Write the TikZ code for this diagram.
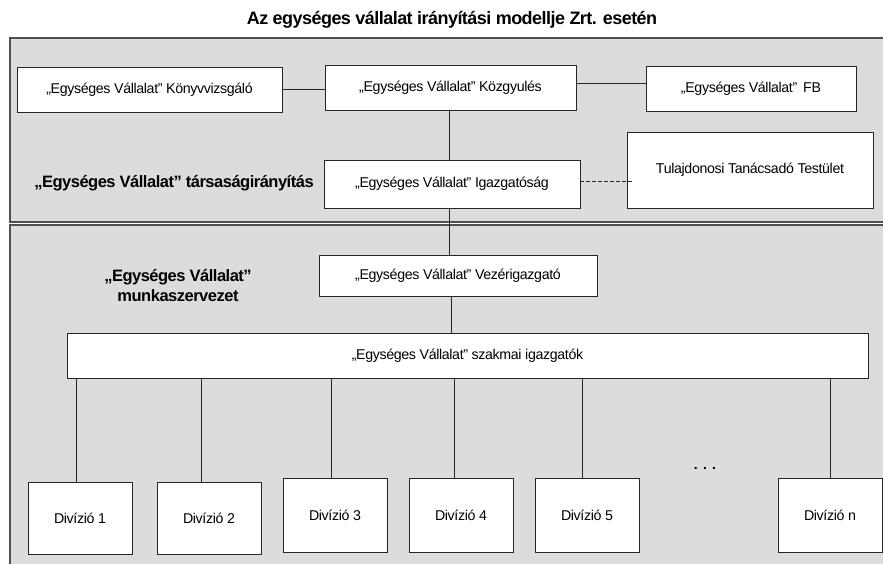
\documentclass[tikz,border=0pt]{standalone}
\usepackage{fontspec}
\setmainfont{Liberation Sans}
\newfontfamily\boxfont[LetterSpace=-2.5]{Liberation Sans}
\newfontfamily\headfont[LetterSpace=-3.0]{Liberation Sans}
\usetikzlibrary{calc}
\definecolor{panelfill}{HTML}{DCDCDC}
\definecolor{panelline}{HTML}{505050}
\tikzset{
  panel/.style={draw=panelline, fill=panelfill, line width=1.2pt},
  orgbox/.style={draw=black!85, fill=white, line width=0.9pt, inner sep=0pt,
    font=\boxfont\fontsize{14.2}{16}\selectfont},
  link/.style={draw=black!85, line width=0.9pt},
  grouplabel/.style={font=\headfont\bfseries\fontsize{16.5}{20}\selectfont, align=center, inner sep=0pt},
}
\begin{document}
\begin{tikzpicture}[x=1pt, y=-1pt]
  \useasboundingbox (0,0) rectangle (883,564);
  \fill[white] (0,0) rectangle (883,564);

  % title
  \node[font=\headfont\bfseries\fontsize{18}{21}\selectfont, inner sep=0pt] (title) at (452,20)
    {Az egységes vállalat irányítási modellje Zrt. esetén};

  % the two shaded bands
  \begin{scope}
    \clip (0,0) rectangle (883,564);
    \draw[panel] (10,38) rectangle (890,222);
    \draw[panel] (10,225) rectangle (890,575);
  \end{scope}

  % governance boxes
  \node[orgbox, minimum width=265pt, minimum height=45pt] (kv)  at (149.5,89.5) {„Egységes Vállalat” Könyvvizsgáló};
  \node[orgbox, minimum width=251pt, minimum height=45pt] (kgy) at (450.5,87.5) {„Egységes Vállalat” Közgyulés};
  \node[orgbox, minimum width=210pt, minimum height=45pt] (fb)  at (751,88.5)   {„Egységes Vállalat”\, FB};
  \node[orgbox, minimum width=256pt, minimum height=48pt] (ig)  at (452,184)    {„Egységes Vállalat” Igazgatóság};
  \node[orgbox, minimum width=246pt, minimum height=76pt] (tt)  at (750,170)    {Tulajdonosi Tanácsadó Testület};
  \coordinate (ttin) at ([xshift=6pt]tt.west);

  \node[grouplabel] (gov) at (174,183) {„Egységes Vállalat” társaságirányítás};

  % working organisation
  \node[orgbox, minimum width=278pt, minimum height=41pt] (vez) at (458,275.5) {„Egységes Vállalat” Vezérigazgató};
  \node[orgbox, minimum width=801pt, minimum height=45pt] (szi) at (467.5,355.5) {„Egységes Vállalat” szakmai igazgatók};

  \node[grouplabel] (work) at (178,286) {„Egységes Vállalat”\\munkaszervezet};

  % divisions
  \node[orgbox, minimum width=104pt, minimum height=72pt] (d1) at (80,518)  {Divízió 1};
  \node[orgbox, minimum width=104pt, minimum height=72pt] (d2) at (209,518) {Divízió 2};
  \node[orgbox, minimum width=104pt, minimum height=74pt] (d3) at (335,515) {Divízió 3};
  \node[orgbox, minimum width=104pt, minimum height=74pt] (d4) at (461,515) {Divízió 4};
  \node[orgbox, minimum width=104pt, minimum height=74pt] (d5) at (587,515) {Divízió 5};
  \node[orgbox, minimum width=104pt, minimum height=74pt] (dn) at (830,515) {Divízió n};

  \node[font=\bfseries\fontsize{14}{16}\selectfont, inner sep=0pt] (dots) at (705,468) {. . .};

  % connectors
  \draw[link] (kv.east) -- (kv.east -| kgy.west);
  \draw[link] ([yshift=4pt]kgy.east) -- ([yshift=4pt]kgy.east -| fb.west);
  \draw[link] ([xshift=-1.5pt]kgy.south) -- ([xshift=-1.5pt]kgy.south |- ig.north);
  \draw[link, dash pattern=on 4pt off 2pt] ([yshift=3pt]ig.east) -- ([yshift=3pt]ig.east -| ttin);
  \draw[link] ([xshift=-3pt]ig.south) -- ([xshift=-3pt]ig.south |- vez.north);
  \draw[link] ([xshift=-7pt]vez.south) -- ([xshift=-7pt]vez.south |- szi.north);

  \draw[link] ([xshift=-4pt]d1.north) -- ([xshift=-4pt]d1.north |- szi.south);
  \draw[link] ([xshift=-8pt]d2.north) -- ([xshift=-8pt]d2.north |- szi.south);
  \draw[link] ([xshift=-4pt]d3.north) -- ([xshift=-4pt]d3.north |- szi.south);
  \draw[link] ([xshift=-7pt]d4.north) -- ([xshift=-7pt]d4.north |- szi.south);
  \draw[link] ([xshift=-5pt]d5.north) -- ([xshift=-5pt]d5.north |- szi.south);
  \draw[link] (dn.north) -- (dn.north |- szi.south);
\end{tikzpicture}
\end{document}
